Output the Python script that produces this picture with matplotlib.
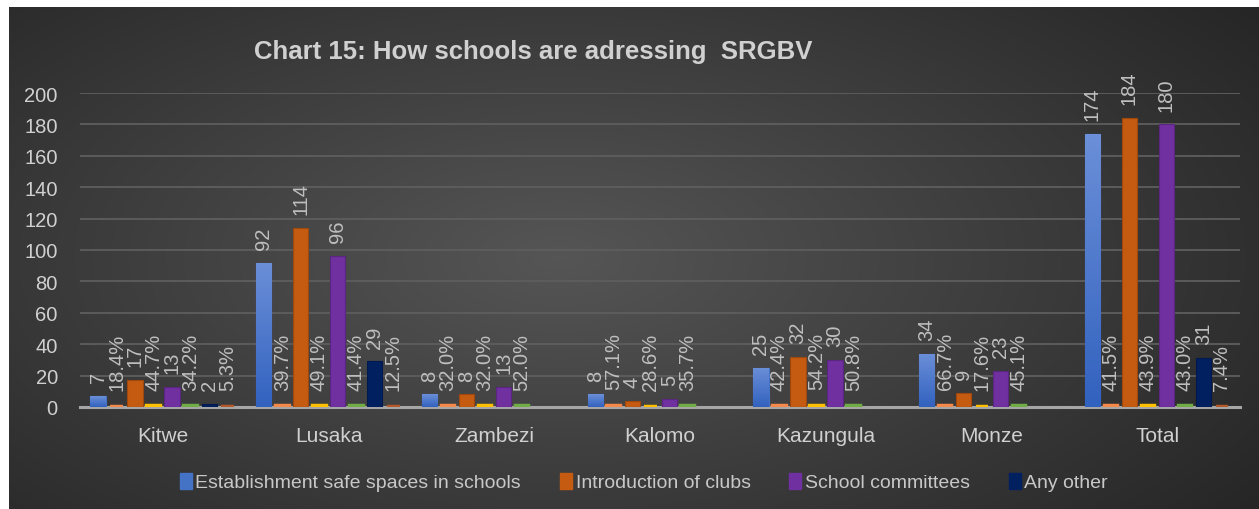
import numpy as np
import matplotlib
matplotlib.use("Agg")
import matplotlib.pyplot as plt
from matplotlib.patches import Patch

plt.rcParams["font.family"] = ["Liberation Sans", "DejaVu Sans"]

# --- data ---
districts = ["Kitwe", "Lusaka", "Zambezi", "Kalomo", "Kazungula", "Monze", "Total"]

safe_spaces = [7, 92, 8, 8, 25, 34, 174]
safe_spaces_pct = [18.4, 39.7, 32.0, 57.1, 42.4, 66.7, 41.5]
clubs = [17, 114, 8, 4, 32, 9, 184]
clubs_pct = [44.7, 49.1, 32.0, 28.6, 54.2, 17.6, 43.9]
committees = [13, 96, 13, 5, 30, 23, 180]
committees_pct = [34.2, 41.4, 52.0, 35.7, 50.8, 45.1, 43.0]
any_other = [2, 29, None, None, None, None, 31]
any_other_pct = [5.3, 12.5, None, None, None, None, 7.4]

series = [
    ("Establishment safe spaces in schools", safe_spaces, "#4472c4", True),
    ("pct1", safe_spaces_pct, "#f4894b", False),
    ("Introduction of clubs", clubs, "#c55a11", True),
    ("pct2", clubs_pct, "#ffc000", False),
    ("School committees", committees, "#7030a0", True),
    ("pct3", committees_pct, "#70ad47", False),
    ("Any other", any_other, "#002060", True),
    ("pct4", any_other_pct, "#b5582a", False),
]

W, H = 1259, 510
fig = plt.figure(figsize=(W / 100, H / 100), dpi=100)
fig.patch.set_facecolor("white")

# background: dark radial gradient (white strip top/left like the screenshot)
bg = fig.add_axes([9 / W, 0, 1 - 9 / W, 1 - 8 / H], zorder=0)
yy, xx = np.mgrid[0:1:200j, 0:1:500j]
r = np.sqrt(((xx - 0.44) / 0.75) ** 2 + ((yy - 0.5) / 0.9) ** 2)
shade = np.clip(0.335 - 0.2 * r, 0.15, 0.34)
bg.imshow(np.dstack([shade] * 3), aspect="auto", extent=[0, 1, 0, 1])
bg.set_axis_off()

ax = fig.add_axes([80 / W, (H - 408) / H, 1160 / W, 314 / H], zorder=1)
ax.patch.set_alpha(0)

n = len(series)
slot = 0.1117
bw = 0.092
x = np.arange(len(districts))

for i, (name, vals, col, is_count) in enumerate(series):
    offs = (i - (n - 1) / 2) * slot
    for xi, v in zip(x, vals):
        if v is None:
            continue
        xc = xi + offs
        if is_count:
            bar = ax.bar(xc, v, bw, color=col, edgecolor=col, linewidth=0.8, zorder=3)[0]
            if i == 0:
                # light-to-dark vertical gradient as on the blue bars
                grad = np.linspace(1, 0, 64).reshape(-1, 1)
                cmap = matplotlib.colors.LinearSegmentedColormap.from_list("b", ["#3262bf", "#6b8fd8"])
                im = ax.imshow(grad, cmap=cmap, aspect="auto", zorder=3.5,
                               extent=[xc - bw / 2, xc + bw / 2, 0, v], origin="upper")
                im.set_clip_path(bar)
            else:
                bar.set_edgecolor(matplotlib.colors.to_hex(np.array(matplotlib.colors.to_rgb(col)) * 0.8))
            label = f"{v}"
            off = 10
        else:
            # percentages share the count axis, so they show up as thin strips
            ax.bar(xc, v / 100, bw - 0.016, color=col, edgecolor=col, linewidth=3.2, zorder=3)
            label = f"{v:.1f}%"
            off = 12
        top = v if is_count else v / 100
        ax.annotate(label, (xc, top), xytext=(0, off), textcoords="offset points",
                    rotation=90, ha="center", va="bottom", fontsize=14.5,
                    color="#bfbfbf", zorder=5)

ax.set_xlim(-0.5, len(districts) - 0.5)
ax.set_ylim(0, 200)
ax.set_yticks(range(0, 201, 20))
ax.set_xticks(x)
ax.set_xticklabels(districts)
ax.tick_params(axis="both", length=0, labelsize=15, labelcolor="#d0d0d0")
ax.tick_params(axis="y", labelsize=14.5, pad=16)
ax.tick_params(axis="x", pad=14)
ax.grid(axis="y", color="#5e5e5e", linewidth=1.3, zorder=1)
ax.set_axisbelow(True)
for s in ["top", "right", "left"]:
    ax.spines[s].set_visible(False)
ax.spines["bottom"].set_color("#a6a6a6")
ax.spines["bottom"].set_linewidth(2.2)
ax.spines["bottom"].set_zorder(2)

fig.text(533 / W, 1 - 52 / H, "Chart 15: How schools are adressing  SRGBV",
         ha="center", va="center", fontsize=18.5, fontweight="bold", color="#d0d0d0")

handles = [Patch(facecolor=c, edgecolor=c) for _, _, c, cnt in series if cnt]
labels = [nm for nm, _, _, cnt in series if cnt]
fig.legend(handles, labels, loc="center", bbox_to_anchor=(644 / W, 1 - 483 / H), ncol=4,
           frameon=False, fontsize=14, labelcolor="#c8c8c8", handlelength=0.6,
           handleheight=0.9, handletextpad=0.2, columnspacing=2.0)

fig.savefig("out.png", dpi=100)
